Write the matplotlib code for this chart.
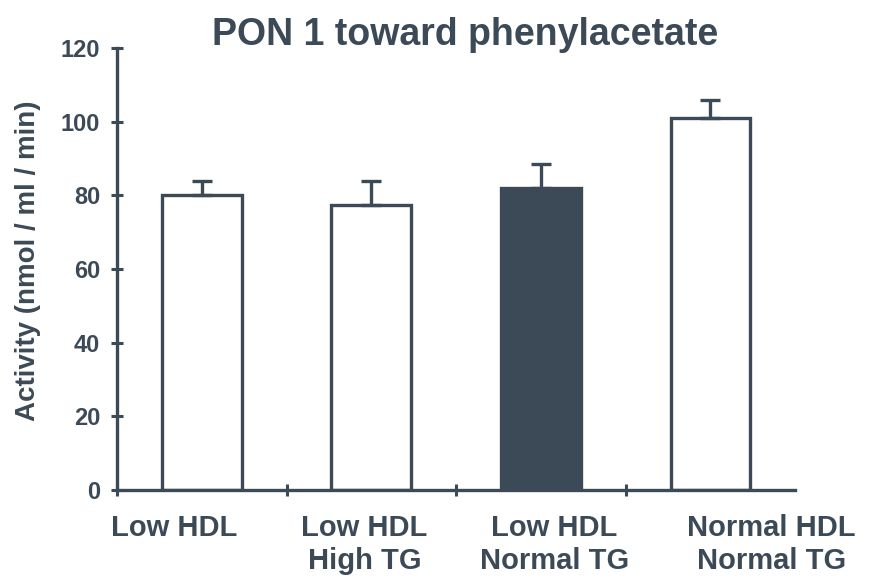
import matplotlib
matplotlib.use("Agg")
import matplotlib.pyplot as plt

categories = ["Low HDL", "Low HDL\nHigh TG", "Low HDL\nNormal TG", "Normal HDL\nNormal TG"]
values = [80.0, 77.5, 82.0, 101.0]
errors = [4.0, 6.5, 6.5, 5.0]
yticks = [0, 20, 40, 60, 80, 100, 120]

dark = "#3c4a57"
fills = ["white", "white", dark, "white"]
label_x = [0.34, 1.46, 2.58, 3.86]

plt.rcParams['font.family'] = ['Liberation Sans', 'DejaVu Sans']
fig = plt.figure(figsize=(8.69, 5.81), dpi=100)
ax = fig.add_axes([0.1346, 0.1566, 0.915 - 0.1346, 0.9174 - 0.1566])

pos = [i + 0.5 for i in range(len(values))]
ax.bar(pos, values, width=0.47, color=fills, edgecolor=dark, linewidth=2.4, zorder=2)
ax.errorbar(pos, values, yerr=[[0] * len(errors), errors], fmt="none",
            ecolor=dark, elinewidth=2.4, capsize=7, capthick=2.4, zorder=3)

ax.set_xlim(0, 4)
ax.set_ylim(0, 120)
ax.set_yticks(yticks)
ax.set_yticklabels([str(t) for t in yticks], fontsize=17, fontweight="bold", color=dark)
ax.set_xticks([0, 1, 2, 3])
ax.set_xticklabels([])
ax.tick_params(axis="both", direction="inout", length=8, width=2.2, color=dark)
ax.tick_params(axis="y", pad=8)

for s in ["top", "right"]:
    ax.spines[s].set_visible(False)
for s in ["left", "bottom"]:
    ax.spines[s].set_linewidth(2.4)
    ax.spines[s].set_color(dark)

for x, lab in zip(label_x, categories):
    ax.text(x, -6.5, lab, ha="center", va="top", fontsize=21, color=dark,
            fontweight="bold", linespacing=1.25, transform=ax.transData)

ax.set_ylabel("Activity (nmol / ml / min)", fontsize=20, fontweight="bold", color=dark)
ax.yaxis.set_label_coords(-0.112, 0.518)
fig.text(0.535, 0.94, "PON 1 toward phenylacetate", ha="center", va="center",
         fontsize=27, fontweight="bold", color=dark)

fig.savefig("out.png", dpi=100, facecolor="white")
